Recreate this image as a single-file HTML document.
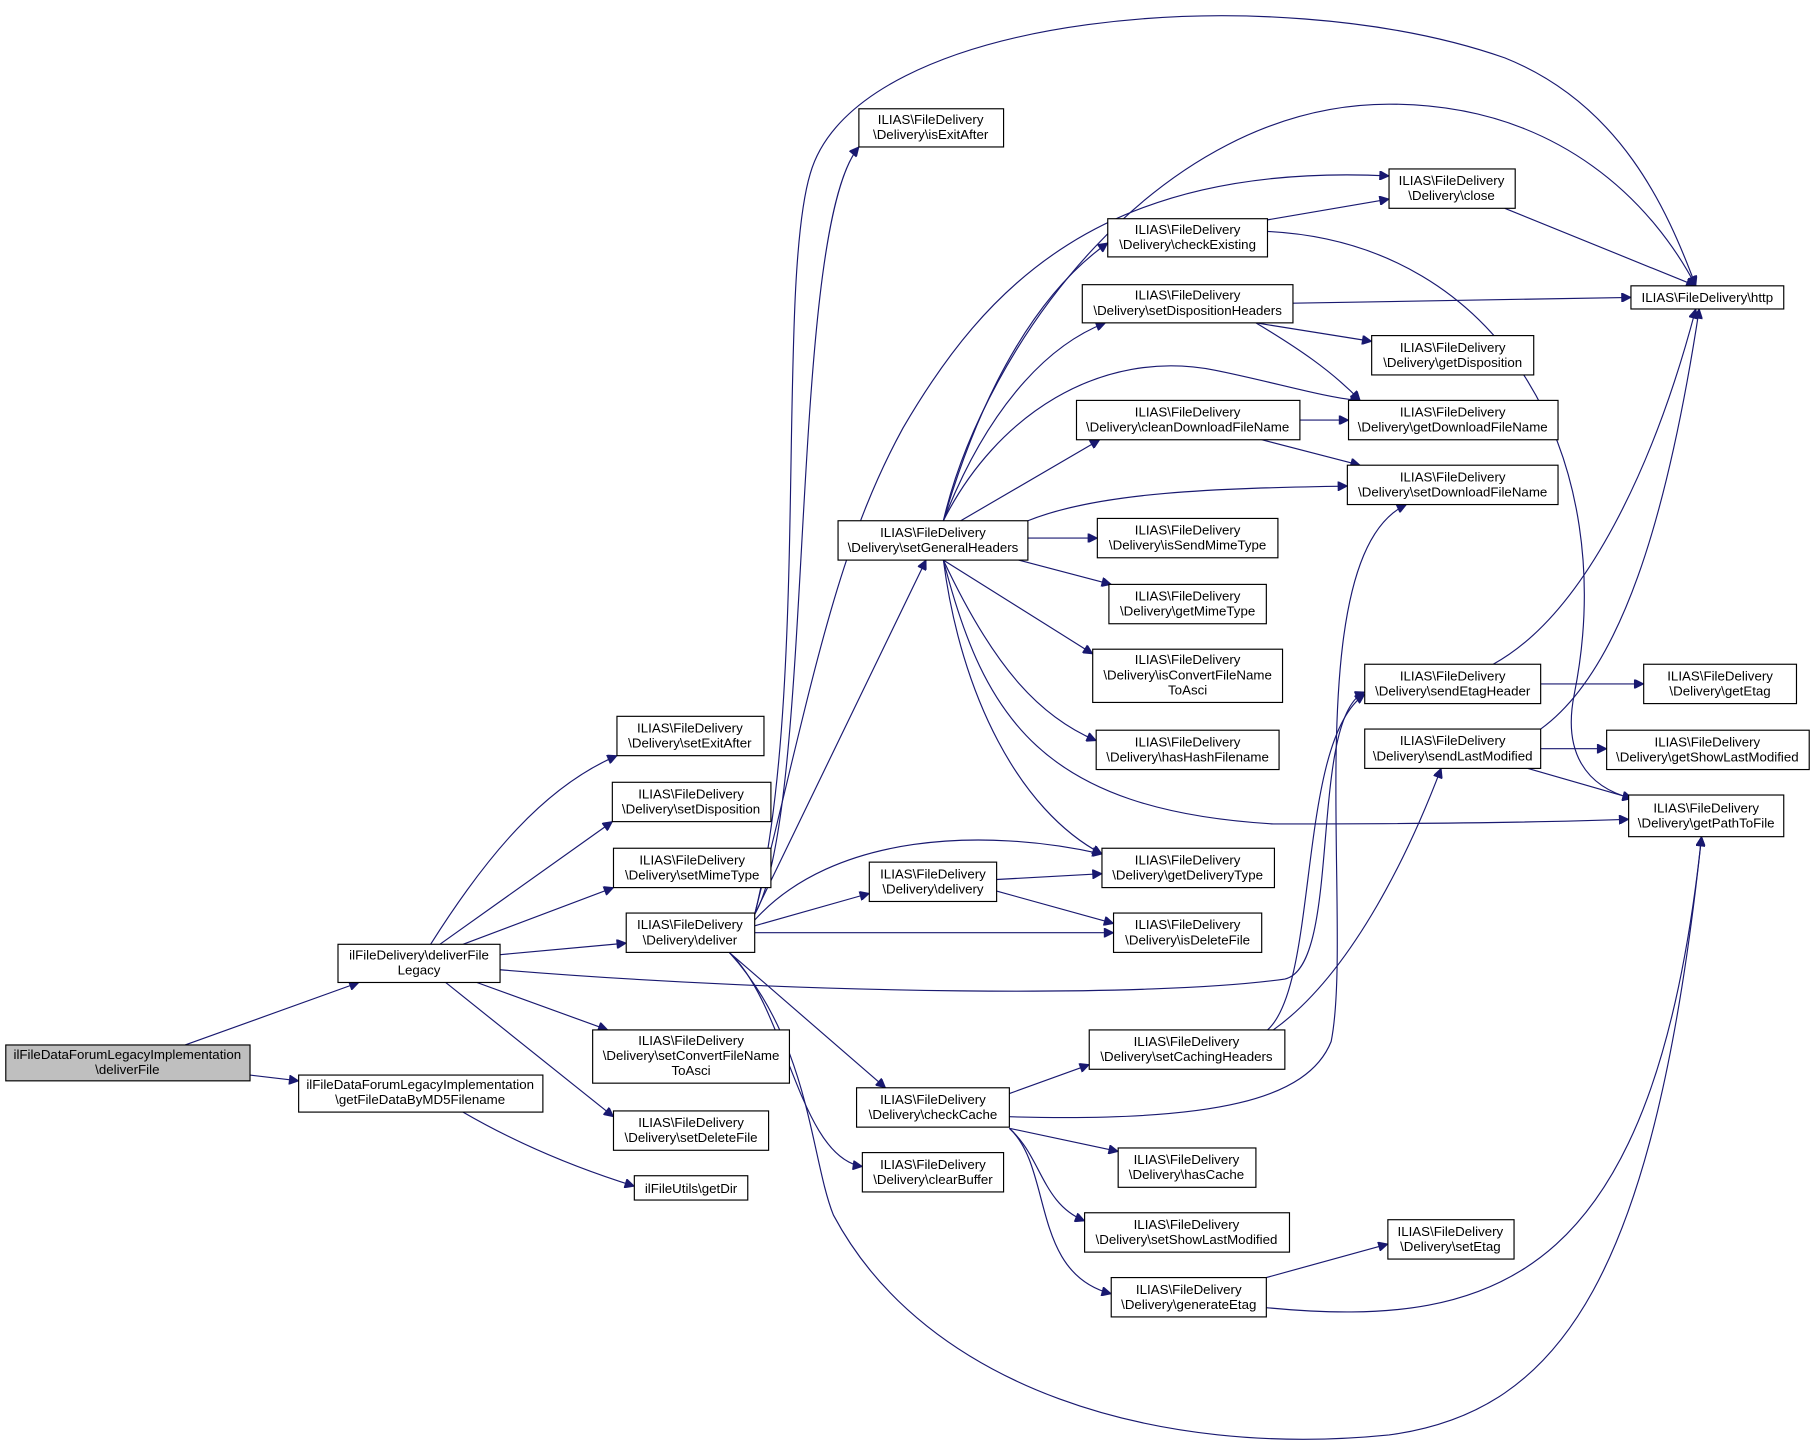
<!DOCTYPE html>
<html><head><meta charset="utf-8"><style>
html,body{margin:0;padding:0;background:#fff;}
svg{display:block;}
text{font-family:"Liberation Sans",Arial,sans-serif;font-size:11.5px;fill:#000;text-anchor:middle;}
rect{fill:#fff;stroke:#000;stroke-width:1;}
path{fill:none;stroke:#191970;stroke-width:1;marker-end:url(#a);}
</style></head><body>
<svg width="1815" height="1450" viewBox="0 0 1568 1253" preserveAspectRatio="none" xmlns="http://www.w3.org/2000/svg">
<defs><marker id="a" viewBox="0 0 10 10" refX="10" refY="5" markerWidth="11" markerHeight="8" orient="auto" markerUnits="userSpaceOnUse"><path d="M0,0L10,5L0,10z" style="fill:#191970;stroke:#191970;marker-end:none"/></marker></defs>

<!-- edges -->
<path d="M160,903 L310,849"/>
<path d="M216,929 L258,934"/>
<path d="M400,961 C450,990 500,1010 548,1025"/>
<path d="M372,816 C420,740 470,680 533,653"/>
<path d="M380,816 L529,710"/>
<path d="M400,816 L530,767"/>
<path d="M432,825 L541,815"/>
<path d="M412,849 L525,890"/>
<path d="M385,849 L530,965"/>
<path d="M432,838 C700,860 1000,862 1110,846 C1160,835 1130,620 1179,598"/>
<path d="M652,790 C705,700 680,200 742,127"/>
<path d="M652,790 C700,600 670,250 700,150 C740,10 1100,-20 1300,50 C1400,90 1440,180 1465,247"/>
<path d="M652,790 C700,600 720,480 780,370 C850,250 950,140 1200,152"/>
<path d="M652,790 L800,484"/>
<path d="M652,800 L751,772"/>
<path d="M652,795 C720,720 850,715 952,738"/>
<path d="M652,806 L962,806"/>
<path d="M630,823 L765,940"/>
<path d="M630,823 C680,870 690,1000 745,1008"/>
<path d="M630,823 C700,900 700,1000 720,1050 C800,1200 1000,1260 1200,1240 C1350,1220 1430,1100 1470,723"/>
<path d="M815,450 C850,300 1000,90 1200,90 C1350,90 1430,180 1465,247"/>
<path d="M815,450 C850,330 900,250 957,210"/>
<path d="M815,450 C850,360 900,300 955,279"/>
<path d="M815,450 C860,360 950,300 1050,320 C1100,330 1150,345 1175,346"/>
<path d="M830,450 L950,380"/>
<path d="M888,450 C950,425 1050,422 1164,420"/>
<path d="M888,465 L948,465"/>
<path d="M880,484 L960,505"/>
<path d="M815,484 L944,565"/>
<path d="M815,484 C860,580 900,620 947,640"/>
<path d="M815,484 C830,600 880,700 952,738"/>
<path d="M815,484 C850,620 900,700 1100,712 C1250,712 1350,710 1407,708"/>
<path d="M861,760 L952,755"/>
<path d="M861,770 L962,798"/>
<path d="M872,945 L941,920"/>
<path d="M872,965 C1050,970 1130,950 1150,900 C1170,800 1120,480 1215,436"/>
<path d="M1095,890 C1140,850 1120,640 1179,600"/>
<path d="M1100,890 C1170,840 1220,730 1245,664"/>
<path d="M872,975 L966,995"/>
<path d="M872,975 C900,1000 900,1040 937,1055"/>
<path d="M872,975 C910,1010 890,1100 960,1118"/>
<path d="M1300,180 L1465,247"/>
<path d="M1095,190 L1200,172"/>
<path d="M1095,200 C1300,210 1400,400 1360,600 C1350,650 1370,680 1410,690"/>
<path d="M1117,262 L1409,257"/>
<path d="M1085,279 L1185,295"/>
<path d="M1085,279 C1120,300 1150,320 1175,346"/>
<path d="M1123,363 L1165,363"/>
<path d="M1090,380 L1175,402"/>
<path d="M1094,1104 L1199,1075"/>
<path d="M1094,1130 C1300,1150 1430,1100 1470,723"/>
<path d="M1331,591 L1420,591"/>
<path d="M1290,574 C1370,530 1430,400 1465,267"/>
<path d="M1331,647 L1388,647"/>
<path d="M1320,664 L1410,690"/>
<path d="M1331,630 C1400,580 1440,450 1468,267"/>

<!-- nodes -->
<rect x="5" y="903" width="211" height="31" style="fill:#bfbfbf"/><text x="110" y="915">ilFileDataForumLegacyImplementation</text><text x="110" y="928">\deliverFile</text>
<rect x="292" y="816" width="140" height="33"/><text x="362" y="829">ilFileDelivery\deliverFile</text><text x="362" y="842">Legacy</text>
<rect x="258" y="929" width="211" height="32"/><text x="363" y="941">ilFileDataForumLegacyImplementation</text><text x="363" y="954">\getFileDataByMD5Filename</text>
<rect x="548" y="1016" width="98" height="21"/><text x="597" y="1031">ilFileUtils\getDir</text>
<rect x="533" y="619" width="127" height="34"/><text x="596" y="633">ILIAS\FileDelivery</text><text x="596" y="646">\Delivery\setExitAfter</text>
<rect x="529" y="676" width="137" height="34"/><text x="597" y="690">ILIAS\FileDelivery</text><text x="597" y="703">\Delivery\setDisposition</text>
<rect x="530" y="733" width="136" height="34"/><text x="598" y="747">ILIAS\FileDelivery</text><text x="598" y="760">\Delivery\setMimeType</text>
<rect x="541" y="789" width="111" height="34"/><text x="596" y="803">ILIAS\FileDelivery</text><text x="596" y="816">\Delivery\deliver</text>
<rect x="512" y="890" width="170" height="46"/><text x="597" y="903">ILIAS\FileDelivery</text><text x="597" y="916">\Delivery\setConvertFileName</text><text x="597" y="929">ToAsci</text>
<rect x="530" y="960" width="134" height="34"/><text x="597" y="974">ILIAS\FileDelivery</text><text x="597" y="987">\Delivery\setDeleteFile</text>
<rect x="742" y="94" width="125" height="33"/><text x="804" y="107">ILIAS\FileDelivery</text><text x="804" y="120">\Delivery\isExitAfter</text>
<rect x="724" y="450" width="164" height="34"/><text x="806" y="464">ILIAS\FileDelivery</text><text x="806" y="477">\Delivery\setGeneralHeaders</text>
<rect x="751" y="745" width="110" height="34"/><text x="806" y="759">ILIAS\FileDelivery</text><text x="806" y="772">\Delivery\delivery</text>
<rect x="740" y="940" width="132" height="34"/><text x="806" y="954">ILIAS\FileDelivery</text><text x="806" y="967">\Delivery\checkCache</text>
<rect x="745" y="996" width="122" height="34"/><text x="806" y="1010">ILIAS\FileDelivery</text><text x="806" y="1023">\Delivery\clearBuffer</text>
<rect x="1200" y="146" width="109" height="34"/><text x="1254" y="160">ILIAS\FileDelivery</text><text x="1254" y="173">\Delivery\close</text>
<rect x="957" y="189" width="138" height="33"/><text x="1026" y="202">ILIAS\FileDelivery</text><text x="1026" y="215">\Delivery\checkExisting</text>
<rect x="935" y="246" width="182" height="33"/><text x="1026" y="259">ILIAS\FileDelivery</text><text x="1026" y="272">\Delivery\setDispositionHeaders</text>
<rect x="930" y="346" width="193" height="34"/><text x="1026" y="360">ILIAS\FileDelivery</text><text x="1026" y="373">\Delivery\cleanDownloadFileName</text>
<rect x="948" y="448" width="156" height="34"/><text x="1026" y="462">ILIAS\FileDelivery</text><text x="1026" y="475">\Delivery\isSendMimeType</text>
<rect x="958" y="505" width="136" height="34"/><text x="1026" y="519">ILIAS\FileDelivery</text><text x="1026" y="532">\Delivery\getMimeType</text>
<rect x="944" y="561" width="164" height="46"/><text x="1026" y="574">ILIAS\FileDelivery</text><text x="1026" y="587">\Delivery\isConvertFileName</text><text x="1026" y="600">ToAsci</text>
<rect x="947" y="631" width="158" height="34"/><text x="1026" y="645">ILIAS\FileDelivery</text><text x="1026" y="658">\Delivery\hasHashFilename</text>
<rect x="952" y="733" width="149" height="34"/><text x="1026" y="747">ILIAS\FileDelivery</text><text x="1026" y="760">\Delivery\getDeliveryType</text>
<rect x="962" y="789" width="128" height="34"/><text x="1026" y="803">ILIAS\FileDelivery</text><text x="1026" y="816">\Delivery\isDeleteFile</text>
<rect x="941" y="890" width="169" height="34"/><text x="1025" y="904">ILIAS\FileDelivery</text><text x="1025" y="917">\Delivery\setCachingHeaders</text>
<rect x="966" y="992" width="119" height="34"/><text x="1025" y="1006">ILIAS\FileDelivery</text><text x="1025" y="1019">\Delivery\hasCache</text>
<rect x="937" y="1048" width="177" height="34"/><text x="1025" y="1062">ILIAS\FileDelivery</text><text x="1025" y="1075">\Delivery\setShowLastModified</text>
<rect x="960" y="1104" width="134" height="34"/><text x="1027" y="1118">ILIAS\FileDelivery</text><text x="1027" y="1131">\Delivery\generateEtag</text>
<rect x="1199" y="1054" width="109" height="34"/><text x="1253" y="1068">ILIAS\FileDelivery</text><text x="1253" y="1081">\Delivery\setEtag</text>
<rect x="1409" y="247" width="132" height="20"/><text x="1475" y="261">ILIAS\FileDelivery\http</text>
<rect x="1185" y="290" width="140" height="34"/><text x="1255" y="304">ILIAS\FileDelivery</text><text x="1255" y="317">\Delivery\getDisposition</text>
<rect x="1165" y="346" width="181" height="34"/><text x="1255" y="360">ILIAS\FileDelivery</text><text x="1255" y="373">\Delivery\getDownloadFileName</text>
<rect x="1164" y="402" width="182" height="34"/><text x="1255" y="416">ILIAS\FileDelivery</text><text x="1255" y="429">\Delivery\setDownloadFileName</text>
<rect x="1179" y="574" width="152" height="34"/><text x="1255" y="588">ILIAS\FileDelivery</text><text x="1255" y="601">\Delivery\sendEtagHeader</text>
<rect x="1179" y="630" width="152" height="34"/><text x="1255" y="644">ILIAS\FileDelivery</text><text x="1255" y="657">\Delivery\sendLastModified</text>
<rect x="1420" y="574" width="132" height="34"/><text x="1486" y="588">ILIAS\FileDelivery</text><text x="1486" y="601">\Delivery\getEtag</text>
<rect x="1388" y="631" width="175" height="34"/><text x="1475" y="645">ILIAS\FileDelivery</text><text x="1475" y="658">\Delivery\getShowLastModified</text>
<rect x="1407" y="687" width="134" height="36"/><text x="1474" y="702">ILIAS\FileDelivery</text><text x="1474" y="715">\Delivery\getPathToFile</text>
</svg>
</body></html>
